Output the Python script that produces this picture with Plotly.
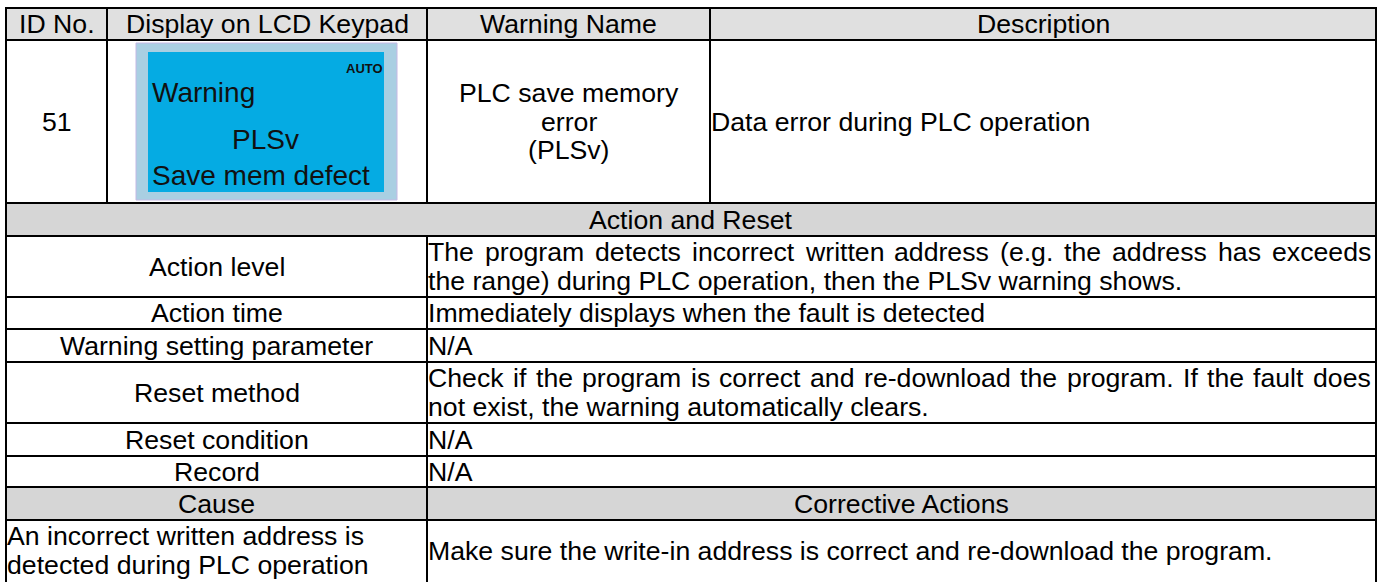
import plotly.graph_objects as go

# ---------------- data (text content) ----------------
header_labels = ["ID No.", "Display on LCD Keypad", "Warning Name", "Description"]
warning_id = "51"
lcd_mode = "AUTO"
lcd_lines = ["Warning", "PLSv", "Save mem defect"]
warning_name_lines = ["PLC save memory", "error", "(PLSv)"]
description_text = "Data error during PLC operation"
section_title = "Action and Reset"
ar_labels = ["Action level", "Action time", "Warning setting parameter",
             "Reset method", "Reset condition", "Record"]
ar_values = [
    ["The program detects incorrect written address (e.g. the address has exceeds",
     "the range) during PLC operation, then the PLSv warning shows."],
    ["Immediately displays when the fault is detected"],
    ["N/A"],
    ["Check if the program is correct and re-download the program. If the fault does",
     "not exist, the warning automatically clears."],
    ["N/A"],
    ["N/A"],
]
cause_header = "Cause"
corrective_header = "Corrective Actions"
cause_lines = ["An incorrect written address is", "detected during PLC operation"]
corrective_lines = ["Make sure the write-in address is correct and re-download the program."]

# ---------------- layout grid (page-pixel axis units) ----------------
W, H = 1389, 582
col_edges = [6, 107, 427, 710, 1376]
row_edges = [8, 40, 203, 236, 297, 329, 362, 423, 456, 487, 520, 600]
line_pitch = 28.5
FONT = "Liberation Sans, Arial, sans-serif"
FS = 26.67
HEADER_FILL = "#e0e0e0"
SECTION_FILL = "#d6d6d6"
LINE_COLOR = "#000000"
LW = 2
PAD = 3  # annotation internal padding

# Arial / Liberation Sans advance widths (per 1000 em) for justification
_w = {' ': 278, '!': 278, '(': 333, ')': 333, ',': 278, '-': 333, '.': 278, '/': 278}
_w.update(dict(zip("abcdefghijklmnopqrstuvwxyz",
                   [556, 556, 500, 556, 556, 278, 556, 556, 222, 222, 500, 222, 833,
                    556, 556, 556, 556, 333, 500, 278, 556, 500, 722, 500, 500, 500])))
_w.update(dict(zip("ABCDEFGHIJKLMNOPQRSTUVWXYZ",
                   [667, 667, 722, 722, 667, 611, 778, 722, 278, 500, 667, 556, 833,
                    722, 778, 667, 778, 722, 667, 611, 722, 667, 944, 667, 667, 611])))


def text_width(s, size=FS):
    return sum(_w.get(c, 556) for c in s) * size / 1000.0


shapes = []
annotations = []


def cell(x0, x1, y0, y1, fill="white"):
    shapes.append(dict(type="rect", xref="x", yref="y", x0=x0, x1=x1, y0=y0, y1=y1,
                       fillcolor=fill, line=dict(color=LINE_COLOR, width=LW), layer="below"))


def ann(x, y, t, anchor, size=FS, color="black"):
    annotations.append(dict(x=x, y=y, xref="x", yref="y", text=t,
                            showarrow=False, xanchor=anchor, yanchor="middle",
                            xshift=-PAD if anchor == "left" else 0,
                            font=dict(family=FONT, size=size, color=color)))


def line_ys(n, y0, y1):
    mid = (y0 + y1) / 2
    return [mid + (i - (n - 1) / 2) * line_pitch for i in range(n)]


def text_lines(lines, x, y0, y1, anchor="center"):
    for y, t in zip(line_ys(len(lines), y0, y1), lines):
        ann(x, y, t, anchor)


def justified_lines(lines, x0, x1, y0, y1):
    ys = line_ys(len(lines), y0, y1)
    for i, (y, t) in enumerate(zip(ys, lines)):
        words = t.split(" ")
        if i == len(lines) - 1 or len(words) < 2:
            ann(x0, y, t, "left")
            continue
        widths = [text_width(wd) for wd in words]
        gap = (x1 - x0 - sum(widths)) / (len(words) - 1)
        x = x0
        for wd, wdw in zip(words, widths):
            ann(x, y, wd, "left")
            x += wdw + gap


# header row
r0, r1 = row_edges[0], row_edges[1]
for i, lab in enumerate(header_labels):
    cell(col_edges[i], col_edges[i + 1], r0, r1, HEADER_FILL)
    text_lines([lab], (col_edges[i] + col_edges[i + 1]) / 2, r0, r1)

# warning row
r0, r1 = row_edges[1], row_edges[2]
for i in range(4):
    cell(col_edges[i], col_edges[i + 1], r0, r1)
text_lines([warning_id], (col_edges[0] + col_edges[1]) / 2, r0, r1)
text_lines(warning_name_lines, (col_edges[2] + col_edges[3]) / 2, r0, r1)
text_lines([description_text], col_edges[3] + 2, r0, r1, anchor="left")

# LCD keypad picture
shapes.append(dict(type="rect", xref="x", yref="y", x0=136, x1=397, y0=43, y1=200,
                   fillcolor="#a9cfe2", line=dict(color="#c4b8e4", width=1)))
shapes.append(dict(type="rect", xref="x", yref="y", x0=148, x1=384, y0=52, y1=192,
                   fillcolor="#05abe3", line=dict(width=0)))
annotations.append(dict(x=385, y=68, xref="x", yref="y", text="<b>%s</b>" % lcd_mode, showarrow=False,
                        xanchor="right", yanchor="middle", font=dict(family=FONT, size=13, color="#111")))
lcd_pos = [(150, 92, "left"), (265, 139, "center"), (150, 175, "left")]
for (lx, ly, anc), t in zip(lcd_pos, lcd_lines):
    annotations.append(dict(x=lx, y=ly, xref="x", yref="y", text=t, showarrow=False,
                            xanchor=anc, yanchor="middle",
                            font=dict(family=FONT, size=28, color="#111")))

# section title
r0, r1 = row_edges[2], row_edges[3]
cell(col_edges[0], col_edges[4], r0, r1, SECTION_FILL)
text_lines([section_title], (col_edges[0] + col_edges[4]) / 2, r0, r1)

# action & reset rows
for k, (lab, val) in enumerate(zip(ar_labels, ar_values)):
    r0, r1 = row_edges[3 + k], row_edges[4 + k]
    cell(col_edges[0], col_edges[2], r0, r1)
    cell(col_edges[2], col_edges[4], r0, r1)
    text_lines([lab], (col_edges[0] + col_edges[2]) / 2, r0, r1)
    justified_lines(val, col_edges[2] + 2, col_edges[4] - 4, r0, r1)

# cause / corrective header
r0, r1 = row_edges[9], row_edges[10]
cell(col_edges[0], col_edges[2], r0, r1, SECTION_FILL)
cell(col_edges[2], col_edges[4], r0, r1, SECTION_FILL)
text_lines([cause_header], (col_edges[0] + col_edges[2]) / 2, r0, r1)
text_lines([corrective_header], (col_edges[2] + col_edges[4]) / 2, r0, r1)

# cause / corrective content
r0, r1 = row_edges[10], row_edges[11]
cell(col_edges[0], col_edges[2], r0, r1)
cell(col_edges[2], col_edges[4], r0, r1)
text_lines(cause_lines, col_edges[0] + 2, r0, 581, anchor="left")
text_lines(corrective_lines, col_edges[2] + 2, r0, 581, anchor="left")

fig = go.Figure()
fig.update_layout(
    width=W, height=H, margin=dict(l=0, r=0, t=0, b=0),
    paper_bgcolor="white", plot_bgcolor="white",
    xaxis=dict(range=[0, W], visible=False, fixedrange=True),
    yaxis=dict(range=[H, 0], visible=False, fixedrange=True),
    shapes=shapes, annotations=annotations, showlegend=False,
)
fig.write_html("out.html", config={"displayModeBar": False, "staticPlot": True},
               post_script="document.body.style.margin='0px';document.body.style.overflow='hidden';")
